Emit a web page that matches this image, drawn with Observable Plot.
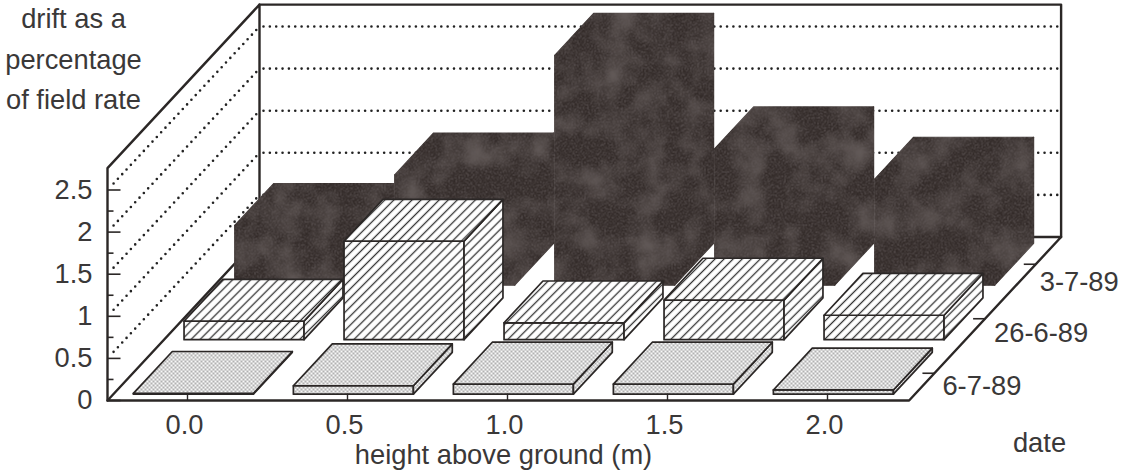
<!DOCTYPE html>
<html>
<head>
<meta charset="utf-8">
<style>html,body{margin:0;padding:0;background:#fff}svg{display:block}</style>
<script src="https://cdn.jsdelivr.net/npm/d3@7"></script>
<script src="https://cdn.jsdelivr.net/npm/@observablehq/plot@0.6"></script>
</head>
<body>
<div id="chart"></div>
<script>
// ---- data ----
const heights = [0.0, 0.5, 1.0, 1.5, 2.0];
const heightLabels = ["0.0", "0.5", "1.0", "1.5", "2.0"];
const dates = ["6-7-89", "26-6-89", "3-7-89"];
const drift_6_7_89 = [0.01, 0.1, 0.12, 0.12, 0.05];
const drift_26_6_89 = [0.22, 1.17, 0.2, 0.47, 0.29];
const drift_3_7_89 = [0.71, 1.31, 2.73, 1.62, 1.26];
const valueTicks = [0, 0.5, 1, 1.5, 2, 2.5];
const minorTicks = [0.25, 0.75, 1.25, 1.75, 2.25];
const valueLabels = ["0", "0.5", "1", "1.5", "2", "2.5"];
const titleLines = "drift as a\npercentage\nof field rate";
const xTitle = "height above ground (m)";
const zTitle = "date";

// ---- oblique projection: (height, depth, value) -> plot (X, Y) ----
const W = 1133, H = 474;
const pxPerM = 320, pxPerUnit = 84.2;
const skew = 152 / pxPerM, rise = 163.5 / pxPerUnit;
const P = (h, d, v) => ({X: h + d * skew, Y: v + d * rise});
const hL = -0.25, hR = 2.255, wallTop = 2.76;
const halfW = 60 / pxPerM, halfD = 0.128;
const depthOf = i => (i + 0.5) / 3;

const face = (id, pts) => [...pts, pts[0]].map(p => ({...P(...p), id}));
function barFaces(values, rowIdx) {
  const c = depthOf(rowIdx), d0 = c - halfD, d1 = c + halfD;
  return values.flatMap((v, i) => {
    const a = heights[i] - halfW, b = heights[i] + halfW;
    return [
      ...face(`${i}f`, [[a, d0, 0], [b, d0, 0], [b, d0, v], [a, d0, v]]),
      ...face(`${i}s`, [[b, d0, 0], [b, d1, 0], [b, d1, v], [b, d0, v]]),
      ...face(`${i}t`, [[a, d0, v], [b, d0, v], [b, d1, v], [a, d1, v]])
    ];
  });
}

const ink = "#2b2726";
const textStyle = {fill: "#3a3838", fontFamily: "Liberation Sans, Arial, sans-serif", fontSize: 27.3, stroke: "none"};
const XY = {x: "X", y: "Y"};
const dotted = {...XY, z: "id", stroke: "#222", strokeWidth: 2.6, strokeDasharray: "0 6.35", strokeLinecap: "round"};

const backDots = valueTicks.slice(1).flatMap(v => [
  {...P(hL + 4 / pxPerM, 1, v), id: "b" + v},
  {...P(hR - 2 / pxPerM, 1, v), id: "b" + v}
]);
const sideDots = valueTicks.slice(1).flatMap(v => [
  {...P(hL, 0.04, v), id: "s" + v},
  {...P(hL, 0.98, v), id: "s" + v}
]);
const frameLines = [
  ...[[hL, 0, 0], [hR, 0, 0], [hR, 1, 0], [hL, 1, 0], [hL, 0, 0]].map(p => ({...P(...p), id: "floor"})),
  ...[[hL, 0, 0], [hL, 0, wallTop], [hL, 1, wallTop], [hL, 1, 0]].map(p => ({...P(...p), id: "left"})),
  ...[[hL, 1, wallTop], [hR, 1, wallTop], [hR, 1, 0]].map(p => ({...P(...p), id: "back"}))
];

const tickLink = (data, x1, y1, x2, y2, w) => Plot.link(data, {x1, y1, x2, y2, stroke: ink, strokeWidth: w});
const rowNudgeX = [0, 1, -4], rowNudgeY = [0, 1, 5];

const plot = Plot.plot({
  width: W, height: H,
  margin: 0,
  x: {domain: [-187 / pxPerM, (W - 187) / pxPerM], range: [0, W], axis: null},
  y: {domain: [-(H - 400) / pxPerUnit, 400 / pxPerUnit], range: [H, 0], axis: null},
  style: {background: "#fff"},
  marks: [
    Plot.line(frameLines, {...XY, z: "id", stroke: ink, strokeWidth: 2.4}),
    Plot.line(backDots, dotted),
    Plot.line(sideDots, dotted),
    tickLink(valueTicks, () => hL, d => d, () => hL + 13 / pxPerM, d => d, 1.6),
    tickLink(minorTicks, () => hL, d => d, () => hL + 6 / pxPerM, d => d, 1.6),
    // bars, back row to front row
    Plot.line(barFaces(drift_3_7_89, 2), {...XY, z: "id", fill: "url(#dark)", stroke: "url(#dark)", strokeWidth: 1.2}),
    Plot.line(barFaces(drift_26_6_89, 1), {...XY, z: "id", fill: "url(#hatch)", stroke: ink, strokeWidth: 1.7}),
    Plot.line(barFaces(drift_6_7_89, 0), {...XY, z: "id", fill: "url(#stipple)", stroke: ink, strokeWidth: 1.7}),
    tickLink(heights, d => d, () => 0, d => d, () => 7 / pxPerUnit, 1.4),
    tickLink(dates, (d, i) => P(hR, depthOf(i), 0).X, (d, i) => P(hR, depthOf(i), 0).Y,
      (d, i) => P(hR - 12 / pxPerM, depthOf(i), 0).X, (d, i) => P(hR, depthOf(i), 0).Y, 1.6),
    Plot.text(valueLabels, {x: () => hL, y: (d, i) => valueTicks[i], text: d => d, textAnchor: "end", dx: -15, ...textStyle}),
    Plot.text(heightLabels, {x: (d, i) => heights[i], y: () => 0, text: d => d, dx: -3, dy: 25, ...textStyle}),
    Plot.text(dates, {
      x: (d, i) => P(hR, depthOf(i), 0).X + rowNudgeX[i] / pxPerM,
      y: (d, i) => P(hR, depthOf(i), 0).Y - rowNudgeY[i] / pxPerUnit,
      text: d => d, textAnchor: "start", dx: 8, dy: 13, ...textStyle}),
    Plot.text([xTitle], {frameAnchor: "top-left", dx: 503, dy: 455, text: d => d, textAnchor: "middle", lineAnchor: "middle", ...textStyle}),
    Plot.text([zTitle], {frameAnchor: "top-left", dx: 1039, dy: 443, text: d => d, textAnchor: "middle", lineAnchor: "middle", ...textStyle}),
    Plot.text([titleLines], {frameAnchor: "top-left", dx: 73, dy: -2, text: d => d, textAnchor: "middle", lineAnchor: "top", lineHeight: 1.5, ...textStyle})
  ]
});

// fill textures referenced by the marks above
const defs = d3.select(plot).insert("defs", ":first-child");
defs.html(`
  <filter id="mottle" x="0" y="0" width="100%" height="100%">
    <feTurbulence type="fractalNoise" baseFrequency="0.03" numOctaves="3" seed="4"/>
    <feColorMatrix type="matrix" values="0 0 0 0 0.34  0 0 0 0 0.3  0 0 0 0 0.29  0.9 0 0 0 -0.36"/>
  </filter>
  <filter id="speck" x="0" y="0" width="100%" height="100%">
    <feTurbulence type="fractalNoise" baseFrequency="0.7" numOctaves="1" seed="9"/>
    <feColorMatrix type="matrix" values="0 0 0 0 0.12  0 0 0 0 0.1  0 0 0 0 0.1  3 0 0 0 -1.35"/>
  </filter>
  <pattern id="dark" patternUnits="userSpaceOnUse" width="${W}" height="${H}">
    <rect width="${W}" height="${H}" fill="#332b29"/>
    <rect width="${W}" height="${H}" filter="url(#mottle)"/>
    <rect width="${W}" height="${H}" filter="url(#speck)"/>
  </pattern>
  <pattern id="hatch" patternUnits="userSpaceOnUse" width="6.4" height="6.4" patternTransform="rotate(-45)">
    <rect width="6.4" height="6.4" fill="#fff"/>
    <line x1="0" y1="3.2" x2="6.4" y2="3.2" stroke="#333" stroke-width="1.3"/>
  </pattern>
  <pattern id="stipple" patternUnits="userSpaceOnUse" width="4" height="4">
    <rect width="4" height="4" fill="#f8f8f8"/>
    <circle cx="1" cy="1" r="0.72" fill="#444"/>
    <circle cx="3" cy="3" r="0.72" fill="#444"/>
  </pattern>`);
document.getElementById("chart").appendChild(plot);
</script>
</body>
</html>
